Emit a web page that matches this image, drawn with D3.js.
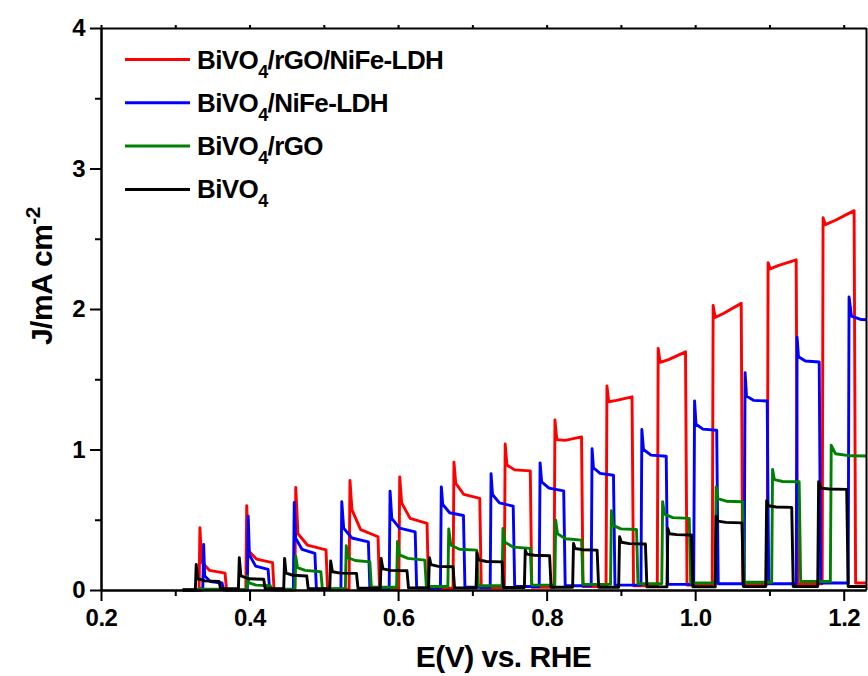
<!DOCTYPE html>
<html>
<head>
<meta charset="utf-8">
<script src="https://cdn.jsdelivr.net/npm/d3@7"></script>
<style>
  body { margin: 0; background: #fff; }
  svg text { font-family: "Liberation Sans", Arial, sans-serif; font-weight: bold; fill: #000; }
</style>
</head>
<body>
<svg id="canvas" width="868" height="676"></svg>
<script>
// chopped-light LSV, each row = one light pulse
// [E on, E off, spike J, J soon after spike, J mid-pulse, J at light off, dark J after pulse]
const redPulses = [
  [0.332, 0.367, 0.443, 0.20, 0.14, 0.12, 0.0],
  [0.395, 0.431, 0.60, 0.28, 0.22, 0.195, 0.0],
  [0.461, 0.503, 0.73, 0.40, 0.32, 0.285, 0.005],
  [0.534, 0.573, 0.78, 0.57, 0.43, 0.379, 0.01],
  [0.601, 0.639, 0.805, 0.62, 0.51, 0.474, 0.012],
  [0.674, 0.710, 0.91, 0.76, 0.68, 0.652, 0.015],
  [0.743, 0.778, 1.04, 0.89, 0.855, 0.848, 0.02],
  [0.810, 0.847, 1.21, 1.07, 1.065, 1.09, 0.025],
  [0.880, 0.915, 1.452, 1.34, 1.35, 1.375, 0.03],
  [0.949, 0.987, 1.72, 1.62, 1.64, 1.695, 0.035],
  [1.023, 1.062, 2.025, 1.94, 1.97, 2.04, 0.04],
  [1.097, 1.136, 2.33, 2.285, 2.31, 2.35, 0.045],
  [1.171, 1.214, 2.65, 2.60, 2.63, 2.70, 0.05]
];
const bluePulses = [
  [0.337, 0.363, 0.325, 0.10, 0.06, 0.05, 0.0],
  [0.397, 0.425, 0.526, 0.25, 0.17, 0.147, 0.002],
  [0.459, 0.488, 0.623, 0.37, 0.29, 0.26, 0.005],
  [0.523, 0.560, 0.628, 0.44, 0.37, 0.343, 0.01],
  [0.588, 0.623, 0.704, 0.51, 0.44, 0.414, 0.015],
  [0.657, 0.688, 0.734, 0.61, 0.55, 0.53, 0.02],
  [0.724, 0.755, 0.827, 0.68, 0.62, 0.597, 0.025],
  [0.790, 0.823, 0.905, 0.77, 0.725, 0.706, 0.03],
  [0.860, 0.890, 1.005, 0.87, 0.83, 0.817, 0.035],
  [0.927, 0.961, 1.142, 1.0, 0.96, 0.952, 0.04],
  [0.998, 1.029, 1.345, 1.18, 1.145, 1.137, 0.045],
  [1.066, 1.097, 1.547, 1.38, 1.35, 1.345, 0.045],
  [1.136, 1.167, 1.80, 1.66, 1.63, 1.623, 0.05],
  [1.206, 1.250, 2.085, 1.95, 1.925, 1.92, 0.05]
];
const greenPulses = [
  [0.333, 0.366, 0.012, 0.006, 0.005, 0.005, 0.0],
  [0.396, 0.428, 0.10, 0.05, 0.035, 0.03, 0.005],
  [0.461, 0.496, 0.24, 0.16, 0.14, 0.13, 0.01],
  [0.529, 0.562, 0.315, 0.23, 0.21, 0.20, 0.02],
  [0.598, 0.636, 0.346, 0.25, 0.225, 0.213, 0.025],
  [0.667, 0.706, 0.434, 0.32, 0.29, 0.284, 0.03],
  [0.740, 0.778, 0.438, 0.34, 0.305, 0.296, 0.035],
  [0.811, 0.847, 0.497, 0.40, 0.365, 0.355, 0.04],
  [0.886, 0.921, 0.564, 0.46, 0.435, 0.431, 0.045],
  [0.955, 0.992, 0.628, 0.54, 0.515, 0.51, 0.05],
  [1.027, 1.064, 0.734, 0.65, 0.632, 0.628, 0.055],
  [1.103, 1.140, 0.858, 0.785, 0.772, 0.77, 0.06],
  [1.182, 1.250, 1.03, 0.97, 0.955, 0.952, 0.065]
];
const blackPulses = [
  [0.327, 0.359, 0.182, 0.08, 0.065, 0.06, 0.01],
  [0.385, 0.419, 0.23, 0.10, 0.08, 0.076, 0.01],
  [0.446, 0.477, 0.225, 0.12, 0.105, 0.10, 0.01],
  [0.508, 0.544, 0.206, 0.13, 0.12, 0.118, 0.012],
  [0.576, 0.612, 0.225, 0.15, 0.14, 0.137, 0.015],
  [0.641, 0.674, 0.23, 0.18, 0.168, 0.166, 0.015],
  [0.705, 0.740, 0.265, 0.215, 0.203, 0.20, 0.018],
  [0.770, 0.804, 0.284, 0.255, 0.247, 0.244, 0.02],
  [0.835, 0.868, 0.332, 0.295, 0.287, 0.284, 0.02],
  [0.897, 0.933, 0.379, 0.34, 0.33, 0.327, 0.022],
  [0.962, 0.995, 0.438, 0.40, 0.394, 0.391, 0.022],
  [1.027, 1.063, 0.526, 0.49, 0.481, 0.478, 0.025],
  [1.095, 1.130, 0.635, 0.60, 0.591, 0.588, 0.025],
  [1.165, 1.204, 0.77, 0.725, 0.719, 0.716, 0.025]
];

const seriesNames = ["BiVO4/rGO/NiFe-LDH", "BiVO4/NiFe-LDH", "BiVO4/rGO", "BiVO4"];
const seriesColors = ["#ff0000", "#0000ff", "#008000", "#000000"];
const xTicks = [0.2, 0.4, 0.6, 0.8, 1.0, 1.2];
const xMinor = [0.3, 0.5, 0.7, 0.9, 1.1];
const yTicks = [0, 1, 2, 3, 4];
const yMinor = [0.5, 1.5, 2.5, 3.5];

(function() {
  var left = 101, right = 866, top = 28, bottom = 590;
  var svg = d3.select("#canvas");

  var x = d3.scaleLinear().domain([0.2, 1.23]).range([left, right]);
  var y = d3.scaleLinear().domain([0, 4]).range([bottom, top]);

  // turn pulse rows into a polyline
  function trace(pulses) {
    var pts = [[0.31, 0]];
    var prevDark = 0;
    pulses.forEach(function(p) {
      var on = p[0], off = p[1], w = off - on;
      pts.push([on, prevDark]);
      pts.push([on + 0.0012, p[2]]);
      pts.push([on + 0.1 * w, p[3]]);
      pts.push([on + 0.4 * w, p[4]]);
      pts.push([off, p[5]]);
      pts.push([off + 0.002, p[6]]);
      prevDark = p[6];
    });
    pts.push([1.25, prevDark]);
    return pts;
  }

  svg.append("clipPath").attr("id", "plotclip")
    .append("rect").attr("x", left).attr("y", top)
    .attr("width", right - left).attr("height", bottom - top + 2);

  var line = d3.line().x(d => x(d[0])).y(d => y(d[1]));
  var all = [redPulses, bluePulses, greenPulses, blackPulses];

  svg.append("g").attr("clip-path", "url(#plotclip)")
    .selectAll("path")
    .data(all)
    .join("path")
    .attr("d", d => line(trace(d)))
    .attr("fill", "none")
    .attr("stroke", (d, i) => seriesColors[i])
    .attr("stroke-width", 2.9)
    .attr("stroke-linejoin", "round");

  // axes
  function styleAxis(g) {
    g.selectAll("path, line").attr("stroke", "#000").attr("stroke-width", 2);
    g.selectAll("text").attr("font-size", 24).attr("letter-spacing", -0.5)
      .attr("font-family", null).attr("fill", null);
  }

  svg.append("g").attr("transform", "translate(0," + bottom + ")")
    .call(d3.axisBottom(x).tickValues(xTicks).tickSize(11).tickSizeOuter(0)
      .tickPadding(8).tickFormat(d3.format(".1f")))
    .call(styleAxis);
  svg.append("g").attr("transform", "translate(0," + bottom + ")")
    .call(d3.axisBottom(x).tickValues(xMinor).tickSize(6).tickSizeOuter(0).tickFormat(""))
    .call(styleAxis);
  svg.append("g").attr("transform", "translate(" + left + ",0)")
    .call(d3.axisLeft(y).tickValues(yTicks).tickSize(11).tickSizeOuter(0)
      .tickPadding(5).tickFormat(d3.format("d")))
    .call(styleAxis);
  svg.append("g").attr("transform", "translate(" + left + ",0)")
    .call(d3.axisLeft(y).tickValues(yMinor).tickSize(6).tickSizeOuter(0).tickFormat(""))
    .call(styleAxis);
  svg.append("g").attr("transform", "translate(0," + top + ")")
    .call(d3.axisTop(x).tickValues(xTicks.concat(xMinor)).tickSize(3).tickSizeOuter(0).tickFormat(""))
    .call(styleAxis);
  svg.append("line").attr("x1", right + 0.5).attr("x2", right + 0.5)
    .attr("y1", top).attr("y2", bottom)
    .attr("stroke", "#000").attr("stroke-width", 2);

  // axis titles
  svg.append("text").attr("x", (left + right) / 2 + 20).attr("y", 667)
    .attr("text-anchor", "middle").attr("font-size", 30).attr("letter-spacing", -0.5)
    .text("E(V) vs. RHE");

  var yt = svg.append("text").attr("transform", "translate(52,276) rotate(-90)")
    .attr("text-anchor", "middle").attr("font-size", 30).attr("letter-spacing", -0.5);
  yt.append("tspan").text("J/mA cm");
  yt.append("tspan").attr("font-size", 21).attr("dy", -12).text("-2");

  // legend
  var leg = svg.append("g").selectAll("g").data(seriesNames).join("g")
    .attr("transform", (d, i) => "translate(0," + (59.5 + i * 43.3) + ")");
  leg.append("line").attr("x1", 125).attr("x2", 190)
    .attr("stroke", (d, i) => seriesColors[i]).attr("stroke-width", 3);
  var lt = leg.append("text").attr("x", 197).attr("y", 9)
    .attr("font-size", 26).attr("letter-spacing", -0.6);
  lt.append("tspan").text("BiVO");
  lt.append("tspan").attr("font-size", 18).attr("dy", 9).text("4");
  lt.append("tspan").attr("dy", -9).text(d => d.slice(5));
})();
</script>
</body>
</html>
